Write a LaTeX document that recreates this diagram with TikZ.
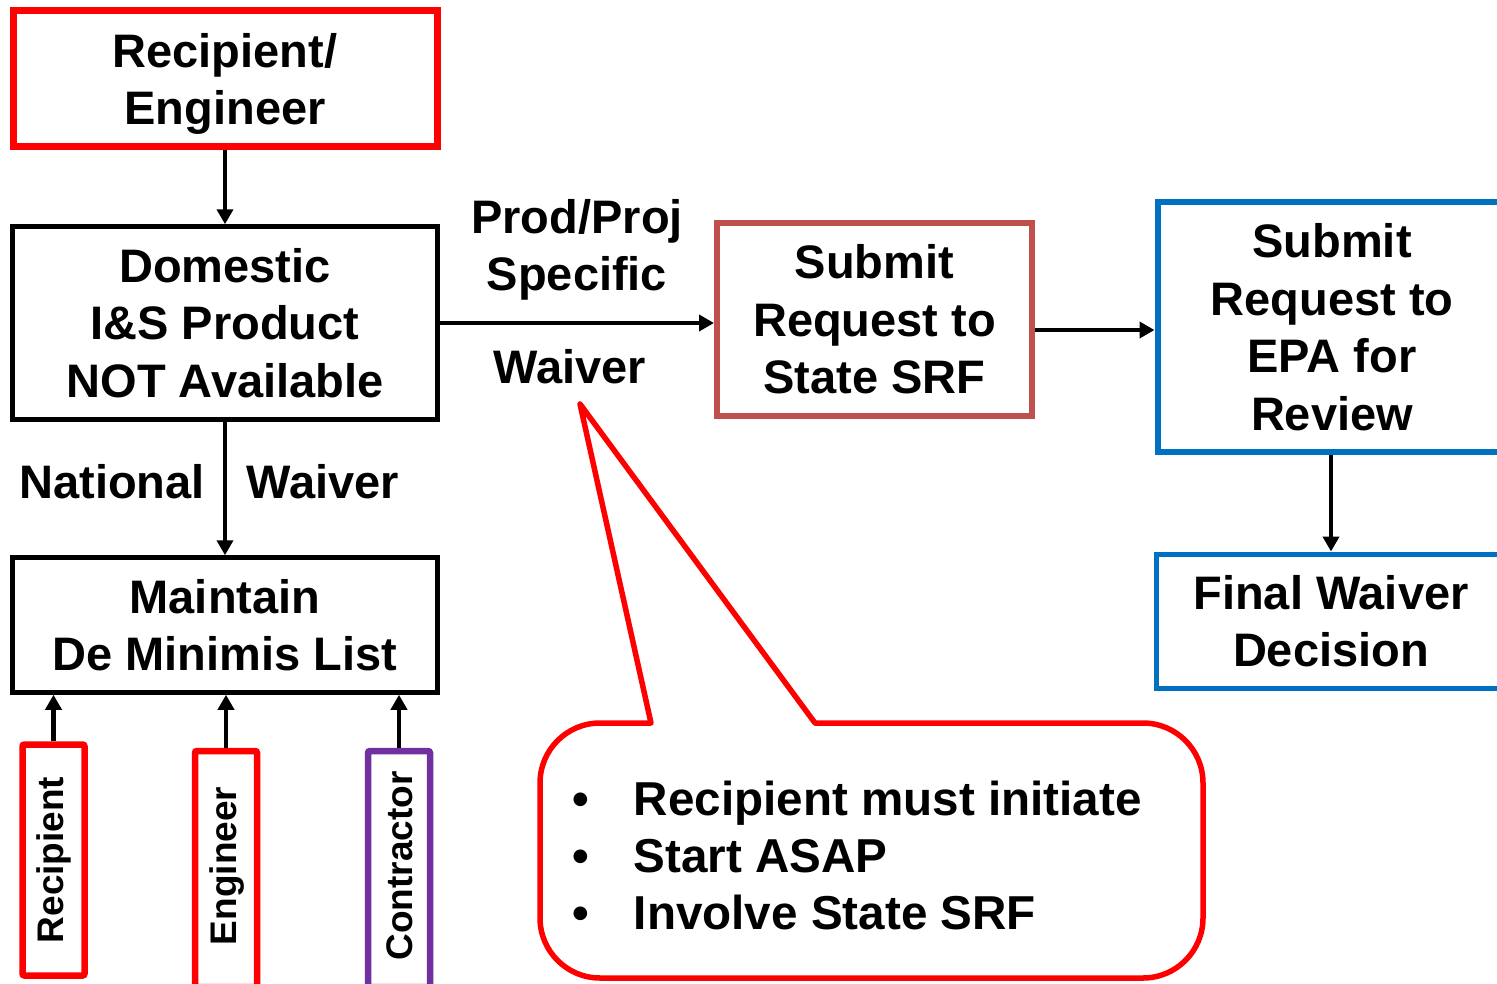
\documentclass[tikz,border=0pt]{standalone}
\usepackage{fontspec}
\setmainfont{Liberation Sans}
\usetikzlibrary{arrows.meta}
\definecolor{boxred}{HTML}{FF0000}
\definecolor{boxbrown}{HTML}{C0504D}
\definecolor{boxblue}{HTML}{0070C0}
\definecolor{boxpurple}{HTML}{7030A0}
\tikzset{
  big/.style={font=\bfseries\fontsize{47}{57.5}\selectfont, align=center},
  small/.style={font=\bfseries\fontsize{37}{44}\selectfont},
  stagebox/.style={draw, rectangle, big, inner sep=0pt},
  blackbox/.style={stagebox, draw=black, line width=4.5pt},
  redbox/.style={stagebox, draw=boxred, line width=7pt},
  brownbox/.style={stagebox, draw=boxbrown, line width=6pt},
  bluebox/.style={stagebox, draw=boxblue, line width=6pt},
  rolebox/.style={draw, rectangle, rounded corners=2pt, line width=6.5pt, inner sep=0pt, minimum width=62pt},
  flow/.style={line width=4.5pt, -{Triangle[length=15pt,width=16pt]}},
  lbl/.style={big, inner sep=0pt},
}
\begin{document}
\begin{tikzpicture}[x=1pt,y=-1pt]
\useasboundingbox (0,0) rectangle (1497,983);
\clip (0,0) rectangle (1497,983);

% left column
\node[redbox, minimum width=424pt, minimum height=136pt] (re) at (225,78) {};
\node[lbl] (ret) at (225,84) {Recipient/\\Engineer};
\node[blackbox, minimum width=425pt, minimum height=193pt] (dom) at (225,323) {Domestic\\I\&S Product\\NOT Available};
\node[blackbox, minimum width=425pt, minimum height=135pt] (dmin) at (225,625) {Maintain\\De Minimis List};

% right side
\node[brownbox, minimum width=315pt, minimum height=193pt] (srf) at (874.5,319.5) {Submit\\Request to\\State SRF};
\node[bluebox, minimum width=349pt, minimum height=250pt] (epa) at (1332,327) {Submit\\Request to\\EPA for\\Review};
\node[bluebox, line width=5pt, minimum width=350pt, minimum height=134pt] (fin) at (1331,621) {Final Waiver\\Decision};

% roles feeding the de minimis list
\node[rolebox, draw=boxred, minimum height=231pt] (rrec) at (53.5,860) {};
\node[rotate=90, small] (trec) at (54,860) {Recipient};
\node[rolebox, draw=boxred, minimum height=236pt] (reng) at (226,869) {};
\node[rotate=90, small] (teng) at (227,866) {Engineer};
\node[rolebox, draw=boxpurple, minimum height=236pt] (rcon) at (399,869) {};
\node[rotate=90, small] (tcon) at (400,866) {Contractor};

% connectors
\draw[flow] (re.south) -- (dom.north);
\draw[flow] (dom.south) -- (dmin.north);
\draw[flow] (dom.east) -- (dom.east -| srf.west);
\draw[flow] ([yshift=-10.5pt]srf.east) -- ([yshift=-10.5pt]srf.east -| epa.west);
\draw[flow] (epa.south -| fin.north) -- (fin.north);
\draw[flow] (rrec.north) -- (rrec.north |- dmin.south);
\draw[flow] (reng.north) -- (reng.north |- dmin.south);
\draw[flow] (rcon.north) -- (rcon.north |- dmin.south);

% connector labels
\node[lbl] (lnat) at (112,482) {National};
\node[lbl] (lwv1) at (323,482) {Waiver};
\node[lbl] (lpp) at (577,221) {Prod/Proj};
\node[lbl] (lsp) at (577,278) {Specific};
\node[lbl] (lwv2) at (570,367) {Waiver};

% callout
\draw[boxred, line width=5.5pt, line join=round]
  (651,723) -- (580,404) -- (815,723) -- (1143,723)
  arc[start angle=-90, end angle=0, radius=60] -- (1203,918)
  arc[start angle=0, end angle=90, radius=60] -- (600,978)
  arc[start angle=90, end angle=180, radius=60] -- (540,783)
  arc[start angle=180, end angle=270, radius=60] -- cycle;
\node[anchor=west, inner sep=0pt, font=\bfseries\fontsize{47.6}{57}\selectfont] (notes) at (572,861)
  {\begin{tabular}{@{}l@{\hspace{45pt}}l@{}}
   \textbullet & Recipient must initiate\\
   \textbullet & Start ASAP\\
   \textbullet & Involve State SRF
   \end{tabular}};
\end{tikzpicture}
\end{document}
